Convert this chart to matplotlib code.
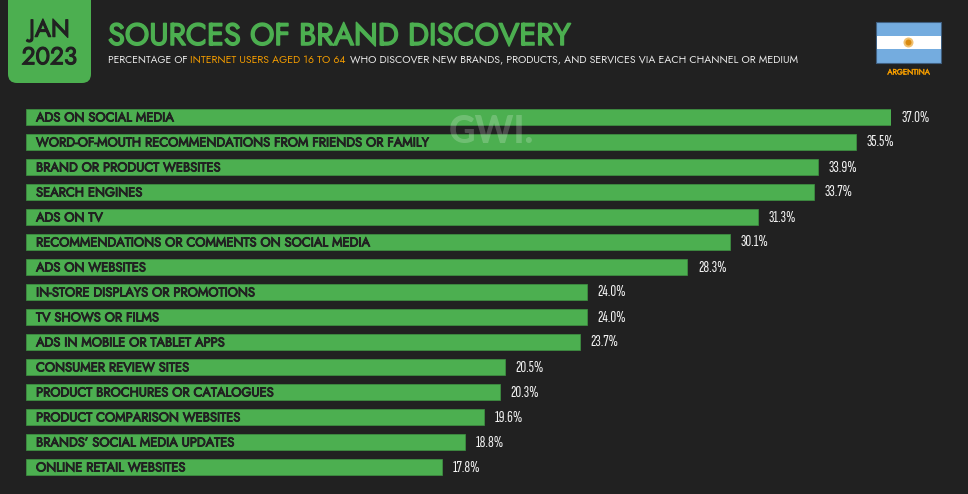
import matplotlib
matplotlib.use('Agg')
import matplotlib.pyplot as plt
import matplotlib.patheffects as pe
from matplotlib.patches import FancyBboxPatch, Rectangle, Circle

categories = [
    'ADS ON SOCIAL MEDIA',
    'WORD-OF-MOUTH RECOMMENDATIONS FROM FRIENDS OR FAMILY',
    'BRAND OR PRODUCT WEBSITES',
    'SEARCH ENGINES',
    'ADS ON TV',
    'RECOMMENDATIONS OR COMMENTS ON SOCIAL MEDIA',
    'ADS ON WEBSITES',
    'IN-STORE DISPLAYS OR PROMOTIONS',
    'TV SHOWS OR FILMS',
    'ADS IN MOBILE OR TABLET APPS',
    'CONSUMER REVIEW SITES',
    'PRODUCT BROCHURES OR CATALOGUES',
    'PRODUCT COMPARISON WEBSITES',
    'BRANDS\u2019 SOCIAL MEDIA UPDATES',
    'ONLINE RETAIL WEBSITES',
]
values = [37.0, 35.5, 33.9, 33.7, 31.3, 30.1, 28.3, 24.0, 24.0, 23.7, 20.5, 20.3, 19.6, 18.8, 17.8]

BG = '#212121'
GREEN = '#4caf50'
DARK = '#212121'
ORANGE = '#f09a00'
W, H = 968, 494
GEO = ['Jost', 'Lato', 'DejaVu Sans']
NARROW = ['Sofia Sans Extra Condensed', 'Roboto Condensed', 'Liberation Sans']

plt.rcParams['font.family'] = GEO

def heavy(color, lw):
    # Jost only comes in one weight here, so thicken it with a stroke
    return [pe.withStroke(linewidth=lw, foreground=color)]

fig = plt.figure(figsize=(W / 100, H / 100), dpi=100, facecolor=BG)

# page layer, in pixels from the top left
page = fig.add_axes([0, 0, 1, 1])
page.set_xlim(0, W)
page.set_ylim(H, 0)
page.axis('off')

page.add_patch(FancyBboxPatch((8, -20), 83, 103, boxstyle='round,pad=0,rounding_size=9',
                              fc=GREEN, ec='none'))
page.text(49.5, 43.5, 'JAN\n2023', ha='center', va='center', color=DARK, fontsize=17.5,
          linespacing=1.08, path_effects=heavy(DARK, 0.8))

page.text(108, 36, 'SOURCES OF BRAND DISCOVERY', ha='left', va='center', color=GREEN,
          fontsize=22.2, path_effects=heavy(GREEN, 1.1))

page.text(108, 60.5, 'PERCENTAGE OF', ha='left', va='center', color='#e8e8e8', fontsize=7.45)
page.text(190.5, 60.5, 'INTERNET USERS AGED 16 TO 64', ha='left', va='center', color=ORANGE, fontsize=7.6)
page.text(350.5, 60.5, 'WHO DISCOVER NEW BRANDS, PRODUCTS, AND SERVICES VIA EACH CHANNEL OR MEDIUM',
          ha='left', va='center', color='#e8e8e8', fontsize=7.65)

# flag
page.add_patch(Rectangle((876, 22.5), 65, 41, fc='#74acdf', ec='#3f5f80', lw=0.8))
page.add_patch(Rectangle((876.5, 36), 64, 13.5, fc='white', ec='none'))
page.add_patch(Circle((908.5, 42.5), 5, fc='#f0c070', ec='none'))
page.add_patch(Circle((908.5, 42.5), 3, fc='#d98a10', ec='none'))
page.text(908.5, 72, 'ARGENTINA', ha='center', va='center', color=ORANGE, fontsize=5.6,
          path_effects=heavy(ORANGE, 0.3))

# bars
ax = fig.add_axes([25.5 / W, 1 - 479.5 / H, 865.5 / W, 375 / H])
ax.patch.set_alpha(0)
ax.set_xlim(0, 37.0)
ax.set_ylim(len(values) - 0.5, -0.5)
ax.axis('off')
ax.barh(range(len(values)), values, height=0.66, color=GREEN, edgecolor='#3f9443', linewidth=0.5)

for i, (name, val) in enumerate(zip(categories, values)):
    ax.annotate(name, (0, i), xytext=(10.5, -1), textcoords='offset pixels', ha='left', va='center',
                color=DARK, fontsize=9.3, path_effects=heavy(DARK, 0.65))
    ax.annotate(f'{val:.1f}%', (val, i), xytext=(10.5, -0.5), textcoords='offset pixels', ha='left', va='center',
                color='#f2f2f2', fontsize=11.6, family=NARROW)

# watermark
fig.text(491 / W, 1 - 132 / H, 'GWI.', ha='center', va='center', color='white', alpha=0.2,
         fontsize=26.5, family=['Lato', 'DejaVu Sans'], fontweight='black')

fig.savefig('out.png', dpi=100, facecolor=BG)
